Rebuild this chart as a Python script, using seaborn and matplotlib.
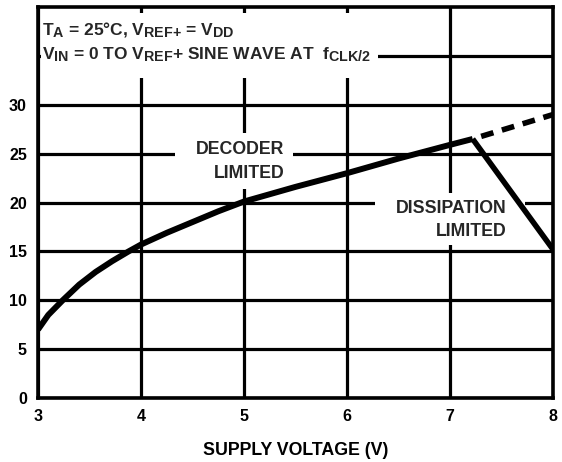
import matplotlib
matplotlib.use("Agg")
import matplotlib.pyplot as plt
import matplotlib._mathtext as mt
import seaborn as sns
from matplotlib.patches import Rectangle

# --- data ---
supply_v = [3.0, 3.1, 3.24, 3.4, 3.56, 3.72, 3.88, 4.0, 4.25, 4.5, 4.75, 5.0,
            5.5, 6.0, 6.5, 7.0, 7.22]
decoder_limit = [7.0, 8.5, 10.0, 11.6, 12.9, 14.0, 15.0, 15.7, 16.9, 18.0, 19.1, 20.1,
                 21.6, 23.0, 24.5, 25.9, 26.5]
ext_v = [7.22, 8.0]
ext_val = [26.5, 29.0]          # dashed continuation
diss_v = [7.22, 8.0]
diss_val = [26.5, 15.2]         # dissipation limited

x_ticks = [3, 4, 5, 6, 7, 8]
y_ticks = [0, 5, 10, 15, 20, 25, 30, 35]
y_tick_labels = ["0", "5", "10", "15", "20", "25", "30", ""]

sns.set_theme(style="white")
plt.rcParams["font.family"] = ["Liberation Sans", "DejaVu Sans"]
plt.rcParams["font.weight"] = "bold"
plt.rcParams["mathtext.fontset"] = "custom"
plt.rcParams["mathtext.rm"] = "Liberation Sans:bold"
plt.rcParams["mathtext.it"] = "Liberation Sans:bold"
plt.rcParams["mathtext.bf"] = "Liberation Sans:bold"
mt.SHRINK_FACTOR = 0.82  # subscripts in the original are fairly large

FS = 12.8
FS_HEAD = 12.5

fig = plt.figure(figsize=(5.62, 4.62), dpi=100)
ax = fig.add_axes([0.0676, 0.1385, 0.9164, 0.8463])

# grid
ax.set_axisbelow(True)
ax.grid(True, color="black", linewidth=2.3)
for s in ax.spines.values():
    s.set_color("black")
    s.set_linewidth(2.6)

# white boxes that break the grid behind the labels
ax.add_patch(Rectangle((3.03, 32.7), 3.27, 6.7, facecolor="white", edgecolor="none", zorder=1))
ax.add_patch(Rectangle((4.33, 21.4), 1.15, 5.7, facecolor="white", edgecolor="none", zorder=1))
ax.add_patch(Rectangle((6.27, 15.7), 1.46, 5.3, facecolor="white", edgecolor="none", zorder=1))

# curves
sns.lineplot(x=supply_v, y=decoder_limit, ax=ax, color="black", linewidth=4.3, zorder=3)
sns.lineplot(x=diss_v, y=diss_val, ax=ax, color="black", linewidth=4.0, zorder=3)
sns.lineplot(x=ext_v, y=ext_val, ax=ax, color="black", linewidth=4.0, zorder=3,
             linestyle=(2.3, (2.3, 1.6)))
for ln in ax.lines:
    ln.set_solid_capstyle("butt")
    ln.set_solid_joinstyle("round")

ax.set_xlim(3, 8)
ax.set_ylim(0, 40)
ax.set_xticks(x_ticks)
ax.set_yticks(y_ticks)
ax.set_yticklabels(y_tick_labels)
ax.tick_params(axis="both", length=0, labelsize=11.5, colors="black")
ax.tick_params(axis="x", pad=8)
ax.tick_params(axis="y", pad=8)
for lbl in ax.get_xticklabels() + ax.get_yticklabels():
    lbl.set_fontweight("bold")
ax.set_xlabel("SUPPLY VOLTAGE (V)", fontsize=FS, fontweight="bold", color="black", labelpad=13)
ax.set_ylabel("")

# annotations
ax.text(3.04, 37.1, r"T$_{\mathrm{A}}$ = 25°C, V$_{\mathrm{REF{+}}}$ = V$_{\mathrm{DD}}$",
        fontsize=FS_HEAD, fontweight="bold", va="baseline", ha="left", zorder=4)
ax.text(3.04, 34.7, r"V$_{\mathrm{IN}}$ = 0 TO V$_{\mathrm{REF}}$+ SINE WAVE AT  f$_{\mathrm{CLK/2}}$",
        fontsize=FS_HEAD, fontweight="bold", va="baseline", ha="left", zorder=4)
ax.text(5.39, 25.0, "DECODER", fontsize=FS, fontweight="bold", ha="right", va="baseline", zorder=4)
ax.text(5.39, 22.5, "LIMITED", fontsize=FS, fontweight="bold", ha="right", va="baseline", zorder=4)
ax.text(7.55, 18.9, "DISSIPATION", fontsize=FS, fontweight="bold", ha="right", va="baseline", zorder=4)
ax.text(7.55, 16.6, "LIMITED", fontsize=FS, fontweight="bold", ha="right", va="baseline", zorder=4)

fig.savefig("out.png", dpi=100)
